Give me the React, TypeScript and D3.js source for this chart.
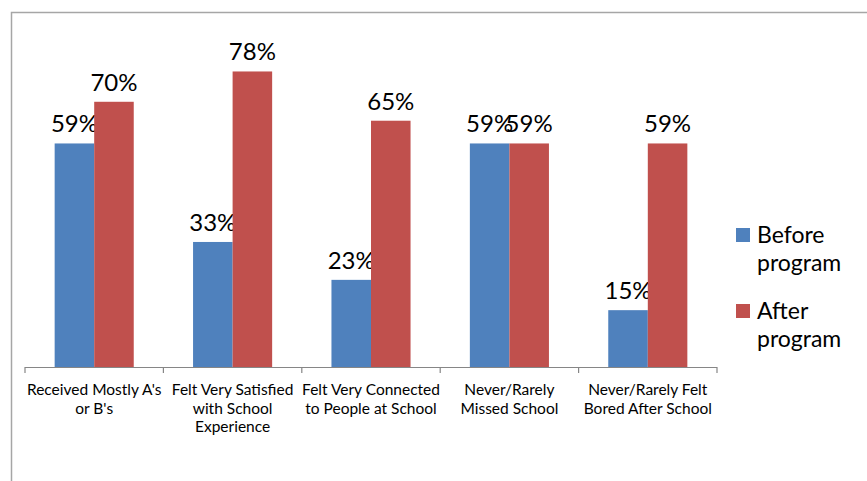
import React from "react";
import * as d3 from "d3";

const categories = [
  "Received Mostly A's\nor B's",
  "Felt Very Satisfied\nwith School\nExperience",
  "Felt Very Connected\nto People at School",
  "Never/Rarely\nMissed School",
  "Never/Rarely Felt\nBored After School",
];
const beforeValues = [59, 33, 23, 59, 15];
const afterValues = [70, 78, 65, 59, 59];
const seriesNames = ["Before\nprogram", "After\nprogram"];
const seriesColors = ["#4F81BD", "#C0504D"];

const W = 867;
const H = 481;
const FONT = "Lato, 'Open Sans', sans-serif";

export default function App() {
  const x0 = d3.scaleBand<string>().domain(categories).range([25, 717]).paddingInner(0).paddingOuter(0);
  const x1 = d3
    .scaleBand<number>()
    .domain([0, 1])
    .range([0, x0.bandwidth()])
    .paddingOuter(0.75)
    .paddingInner(0);
  const y = d3.scaleLinear().domain([0, 90]).range([367, 26]);
  const series = [beforeValues, afterValues];

  return (
    <svg width={W} height={H} style={{ position: "absolute", left: 0, top: 0, background: "#fff" }} fontFamily={FONT}>
      <rect x={11.5} y={12.5} width={W + 10} height={H + 10} fill="none" stroke="#A6A6A6" strokeWidth={1.5} />
      {categories.map((c, ci) => (
        <g key={c} transform={`translate(${x0(c)},0)`}>
          {series.map((vals, si) => (
            <g key={si}>
              <rect
                x={x1(si)}
                y={y(vals[ci])}
                width={x1.bandwidth()}
                height={y(0) - y(vals[ci])}
                fill={seriesColors[si]}
              />
              <text
                x={(x1(si) as number) + x1.bandwidth() / 2}
                y={y(vals[ci]) - 11}
                textAnchor="middle"
                fontSize={24}
                fill="#000"
              >
                {vals[ci]}%
              </text>
            </g>
          ))}
          <text textAnchor="middle" fontSize={15.5} fill="#000">
            {c.split("\n").map((line, li) => (
              <tspan key={li} x={x0.bandwidth() / 2} y={395 + li * 18.5}>
                {line}
              </tspan>
            ))}
          </text>
        </g>
      ))}
      <line x1={25} x2={717} y1={367.5} y2={367.5} stroke="#868686" strokeWidth={1.2} />
      {[...categories.map((c) => x0(c) as number), 717].map((t, i) => (
        <line key={i} x1={t} x2={t} y1={367} y2={373} stroke="#868686" strokeWidth={1.2} />
      ))}
      {seriesNames.map((name, si) => (
        <g key={name} transform={`translate(736,${228 + si * 76})`}>
          <rect x={0} y={0} width={14} height={14} fill={seriesColors[si]} />
          <text fontSize={23} fill="#000">
            {name.split("\n").map((line, li) => (
              <tspan key={li} x={21} y={15 + li * 28}>
                {line}
              </tspan>
            ))}
          </text>
        </g>
      ))}
    </svg>
  );
}
